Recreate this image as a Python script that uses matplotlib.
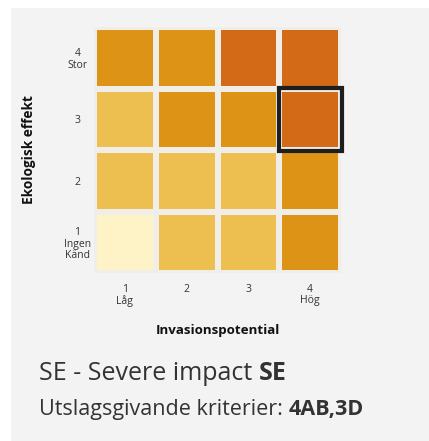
import matplotlib
matplotlib.use("Agg")
import matplotlib.pyplot as plt
from matplotlib.colors import ListedColormap, BoundaryNorm
from matplotlib.patches import Rectangle
import numpy as np

# Data
invasion_ticks = ["1\nLåg", "2", "3", "4\nHög"]
effect_ticks = ["1\nIngen\nKänd", "2", "3", "4\nStor"]
# risk level per cell, rows = ecological effect 1..4 (bottom to top), cols = invasion 1..4
risk_levels = [
    [0, 1, 1, 2],   # effect 1
    [1, 1, 1, 2],   # effect 2
    [1, 2, 2, 3],   # effect 3
    [2, 2, 3, 3],   # effect 4
]
level_colors = ["#FEF3C6", "#ECBF50", "#DD9316", "#D26A18"]
selected_invasion = 4
selected_effect = 3
title_main = "SE - Severe impact "
title_bold = "SE"
crit_label = "Utslagsgivande kriterier: "
crit_value = "4AB,3D"

W, H = 429, 441
fig = plt.figure(figsize=(W / 100, H / 100), dpi=100)
fig.patch.set_facecolor("white")
bg = Rectangle((11 / W, 0), 1, 1 - 8 / H, transform=fig.transFigure,
               facecolor="#f3f3f3", edgecolor="none", zorder=-10)
fig.patches.append(bg)

ax = fig.add_axes([94 / W, 1 - 273 / H, (341 - 94) / W, (273 - 27) / H])
ax.set_facecolor("#f3f3f3")
cmap = ListedColormap(level_colors)
norm = BoundaryNorm([-0.5, 0.5, 1.5, 2.5, 3.5], cmap.N)
edges = np.arange(0.5, 5.0, 1.0)
ax.pcolormesh(edges, edges, np.array(risk_levels), cmap=cmap, norm=norm,
              edgecolors="#f1eeea", linewidth=3)
ax.add_patch(Rectangle((selected_invasion - 0.5 - 0.01, selected_effect - 0.5 - 0.01), 1.02, 1.02,
                       facecolor="none", edgecolor="#1e1e1e", linewidth=3, zorder=5,
                       clip_on=False))
ax.set_xlim(0.5, 4.5)
ax.set_ylim(0.5, 4.5)
for s in ax.spines.values():
    s.set_visible(False)

font = "Open Sans"
ax.set_xticks(range(1, 5))
ax.set_xticklabels(invasion_ticks, fontsize=7.5, family=font, color="#333333",
                   linespacing=0.95)
ax.set_yticks(range(1, 5))
ax.set_yticklabels(effect_ticks, fontsize=7.5, family=font, color="#333333",
                   linespacing=1.1, ha="center")
ax.tick_params(length=0, pad=8)
ax.tick_params(axis="y", pad=12)
ax.set_xlabel("Invasionspotential", fontsize=9.6, fontweight="bold", family=font,
              color="#111111")
ax.set_ylabel("Ekologisk effekt", fontsize=9.8, fontweight="bold", family=font,
              color="#111111")
ax.xaxis.set_label_coords(0.5, (273 - 324) / 246)
ax.yaxis.set_label_coords((36 - 94) / 247, 0.5)

t1 = fig.text(39 / W, 1 - 374 / H, title_main, fontsize=18, family=font,
              color="#333333", va="center")
fig.canvas.draw()
bb = t1.get_window_extent()
fig.text(bb.x1 / W, 1 - 374 / H, title_bold, fontsize=18, family=font,
         fontweight="bold", color="#333333", va="center")

t2 = fig.text(39 / W, 1 - 410 / H, crit_label, fontsize=15.5, family=font,
              color="#333333", va="center")
fig.canvas.draw()
bb = t2.get_window_extent()
fig.text(bb.x1 / W, 1 - 410 / H, crit_value, fontsize=15.5, family=font,
         fontweight="bold", color="#333333", va="center")

fig.savefig("out.png", dpi=100, facecolor=fig.get_facecolor())
